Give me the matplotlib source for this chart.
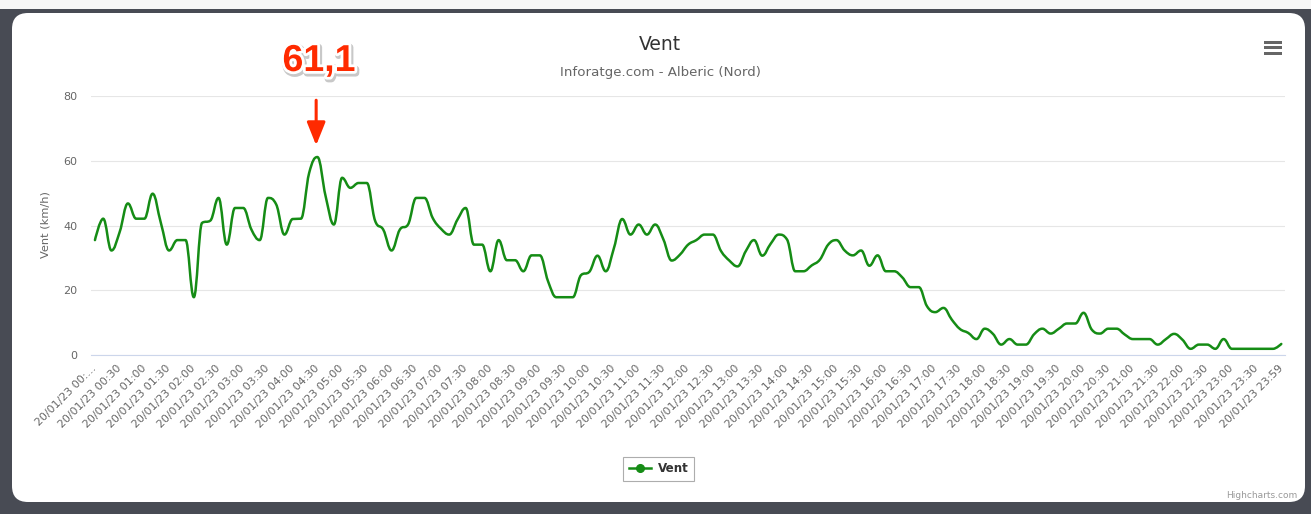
import numpy as np
import matplotlib
matplotlib.use("Agg")
import matplotlib.pyplot as plt
from matplotlib.path import Path
from matplotlib.patches import PathPatch, FancyBboxPatch, Rectangle
from matplotlib.lines import Line2D
import matplotlib.patheffects as pe
from matplotlib import font_manager as fm

# ---------------- data ----------------
vent = [35.5, 42.1, 32.3, 38.0, 46.8, 42.1, 42.1, 49.8, 40.8, 32.3,
        35.5, 35.5, 17.9, 40.8, 41.5, 48.5, 34.1, 45.4, 45.4, 38.7,
        35.5, 48.5, 46.5, 37.2, 42.0, 42.1, 56.2, 61.1, 49.0, 40.3,
        54.7, 51.6, 53.1, 53.1, 41.5, 38.7, 32.3, 38.7, 40.3, 48.5,
        48.5, 42.3, 39.0, 37.2, 41.8, 45.4, 34.1, 34.1, 25.9, 35.5,
        29.3, 29.3, 25.9, 30.8, 30.8, 22.8, 17.9, 17.9, 17.9, 24.7,
        25.7, 30.7, 25.9, 33.1, 42.0, 37.2, 40.3, 37.2, 40.3, 35.7,
        29.2, 31.0, 34.1, 35.5, 37.2, 37.2, 32.1, 29.2, 27.4, 32.1,
        35.5, 30.7, 34.3, 37.2, 35.7, 25.9, 25.9, 27.7, 29.5, 34.1,
        35.5, 32.3, 30.8, 32.3, 27.6, 30.8, 25.9, 25.9, 24.0, 21.0,
        21.0, 15.1, 13.3, 14.6, 11.0, 8.1, 6.9, 5.0, 8.2, 6.6,
        3.3, 5.0, 3.3, 3.3, 6.5, 8.2, 6.7, 8.2, 9.8, 9.8,
        13.1, 7.9, 6.7, 8.2, 8.2, 6.4, 5.0, 5.0, 5.0, 3.3,
        5.0, 6.6, 4.8, 2.0, 3.3, 3.3, 2.0, 5.0, 2.0, 2.0,
        2.0, 2.0, 2.0, 2.0, 3.5]
tick_step = 3
tick_labels = (["20/01/23 00:\u2026"] +
               [f"20/01/23 {h:02d}:{m:02d}" for h in range(24) for m in (0, 30)][1:] +
               ["20/01/23 23:59"])
y_ticks = [0, 20, 40, 60, 80]
title = "Vent"
subtitle = "Inforatge.com - Alberic (Nord)"
y_title = "Vent (km/h)"
series_name = "Vent"
peak_label = "61,1"

LINE = "#158c15"
RED = "#ff2a00"
W, H = 1311, 514

fig = plt.figure(figsize=(W / 100, H / 100), dpi=100)

# ---------- background (pixel coordinates) ----------
bg = fig.add_axes([0, 0, 1, 1], zorder=0)
bg.set_xlim(0, W)
bg.set_ylim(H, 0)
bg.axis("off")
bg.add_patch(Rectangle((0, 0), W, H, color="#484b54", lw=0))
bg.add_patch(Rectangle((0, 0), W, 9, color="#f6f6f6", lw=0))
bg.add_patch(FancyBboxPatch((12, 13), 1293, 489,
                            boxstyle="round,pad=0,rounding_size=16",
                            fc="white", ec="none"))
for yy in (42, 47.5, 53):
    bg.add_patch(Rectangle((1264, yy - 1.5), 18, 3.2, color="#666666", lw=0))

# ---------- main axes ----------
left, right = 91 / W, 1285 / W
bottom, top = (H - 355.3) / H, (H - 95.7) / H
ax = fig.add_axes([left, bottom, right - left, top - bottom], zorder=1)
ax.set_facecolor("none")

x = np.arange(len(vent), dtype=float)
yv = np.array(vent, dtype=float)


def hc_spline_path(xs, ys, smoothing=1.5):
    n = len(xs)
    denom = smoothing + 1
    lcx, lcy = xs.copy(), ys.copy()
    rcx, rcy = xs.copy(), ys.copy()
    for i in range(1, n - 1):
        px, py = xs[i], ys[i]
        lx, ly = xs[i - 1], ys[i - 1]
        nx, ny = xs[i + 1], ys[i + 1]
        l_x = (smoothing * px + lx) / denom
        l_y = (smoothing * py + ly) / denom
        r_x = (smoothing * px + nx) / denom
        r_y = (smoothing * py + ny) / denom
        if r_x != l_x:
            corr = ((r_y - l_y) * (r_x - px)) / (r_x - l_x) + py - r_y
            l_y += corr
            r_y += corr
        if l_y > ly and l_y > py:
            l_y = max(ly, py); r_y = 2 * py - l_y
        elif l_y < ly and l_y < py:
            l_y = min(ly, py); r_y = 2 * py - l_y
        if r_y > ny and r_y > py:
            r_y = max(ny, py); l_y = 2 * py - r_y
        elif r_y < ny and r_y < py:
            r_y = min(ny, py); l_y = 2 * py - r_y
        lcx[i], lcy[i], rcx[i], rcy[i] = l_x, l_y, r_x, r_y
    verts = [(xs[0], ys[0])]
    codes = [Path.MOVETO]
    for i in range(1, n):
        verts += [(rcx[i - 1], rcy[i - 1]), (lcx[i], lcy[i]), (xs[i], ys[i])]
        codes += [Path.CURVE4] * 3
    return Path(verts, codes)


ax.add_patch(PathPatch(hc_spline_path(x, yv), fill=False, ec=LINE, lw=1.8,
                       capstyle="round", joinstyle="round", zorder=3))

ax.set_xlim(-0.48, len(vent) - 1 + 0.45)
ax.set_ylim(0, 80)
ax.set_yticks(y_ticks)
ax.set_yticklabels([str(v) for v in y_ticks], color="#666666", fontsize=8)
ax.tick_params(axis="y", length=0, pad=10)
ax.grid(axis="y", color="#e6e6e6", lw=0.8)
ax.set_axisbelow(True)
for s in ("left", "right", "top"):
    ax.spines[s].set_visible(False)
ax.spines["bottom"].set_color("#ccd6eb")
ax.spines["bottom"].set_linewidth(0.8)

tick_pos = np.arange(0, len(vent), tick_step)
ax.set_xticks(tick_pos)
ax.set_xticklabels(tick_labels, rotation=45, ha="right", va="center",
                   rotation_mode="anchor", color="#666666", fontsize=7.9)
ax.tick_params(axis="x", length=0, pad=8)

# ---------- titles ----------
fig.text(660 / W, 1 - 44 / H, title, ha="center", va="center",
         fontsize=13.5, color="#333333")
fig.text(660 / W, 1 - 73 / H, subtitle, ha="center", va="center",
         fontsize=9.6, color="#666666")
fig.text(45 / W, 1 - 225 / H, y_title, ha="center", va="center",
         rotation=90, fontsize=8.2, color="#666666")
fig.text(1297 / W, 1 - 495 / H, "Highcharts.com", ha="right", va="center",
         fontsize=6.5, color="#999999")

# ---------- legend ----------
handle = Line2D([], [], color=LINE, lw=1.8, marker="o", markersize=5.5)
leg = fig.legend([handle], [series_name], loc="center",
                 bbox_to_anchor=(658.5 / W, 1 - 469 / H),
                 bbox_transform=fig.transFigure, frameon=True,
                 fancybox=False, handlelength=1.9, handletextpad=0.5,
                 borderpad=0.45, prop={"weight": "bold", "size": 8.6})
leg.get_frame().set_edgecolor("#999999")
leg.get_frame().set_linewidth(0.8)
for t in leg.get_texts():
    t.set_color("#333333")


# ---------- peak annotation ----------
def has_font(name):
    try:
        fm.findfont(fm.FontProperties(family=name), fallback_to_default=False)
        return True
    except Exception:
        return False


ipk = int(np.argmax(yv))
pk = yv[ipk]
if has_font("Liberation Sans Narrow"):
    fam, fsz = "Liberation Sans Narrow", 33
elif has_font("Liberation Sans"):
    fam, fsz = "Liberation Sans", 27
else:
    fam, fsz = "DejaVu Sans", 24
ax.annotate("", xy=(ipk - 0.15, pk + 3.6), xytext=(ipk - 0.15, pk + 17.5),
            arrowprops=dict(arrowstyle="-|>,head_length=1.0,head_width=0.4",
                            color=RED, lw=2.2, mutation_scale=14,
                            shrinkA=0, shrinkB=0),
            annotation_clip=False, zorder=5)
fig.text(319 / W, 1 - 61 / H, peak_label, ha="center", va="center",
         fontsize=fsz, fontweight="bold", family=fam, color=RED,
         path_effects=[pe.Stroke(linewidth=5, foreground="#c8c8c8", offset=(1, -1.5)),
                       pe.Stroke(linewidth=4, foreground="white"),
                       pe.Normal()], zorder=6)

fig.savefig("out.png", dpi=100)
